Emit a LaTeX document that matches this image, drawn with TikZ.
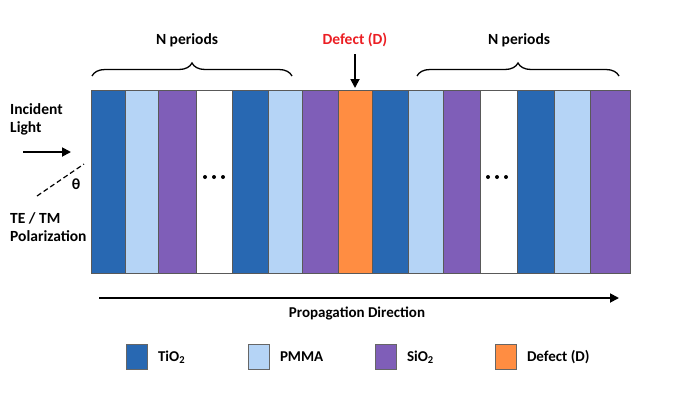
\documentclass[tikz,border=0pt]{standalone}
\usepackage{fontspec}
\setmainfont{Carlito}
\usetikzlibrary{arrows.meta}
\usetikzlibrary{decorations.pathreplacing}
\definecolor{tio}{RGB}{40,104,178}
\definecolor{pmma}{RGB}{181,212,246}
\definecolor{sio}{RGB}{127,94,184}
\definecolor{dfct}{RGB}{255,141,66}
\definecolor{dred}{RGB}{235,30,35}
\tikzset{layer/.style={draw=black!65,line width=0.5}}

\begin{document}
\begin{tikzpicture}[x=1pt,y=-1pt]
  \tikzset{lbl/.style={font=\bfseries\fontsize{15}{18}\selectfont,inner sep=1pt}}
  \tikzset{biglbl/.style={font=\bfseries\fontsize{15.5}{18}\selectfont,inner sep=1pt}}
  \tikzset{bracket/.style={decorate,decoration={brace,amplitude=13},line width=1.3}}
  \tikzset{bigarrow/.style={-{Triangle[length=9,width=9]},line width=1.8}}
  \tikzset{keybox/.style={draw=black!60,line width=0.6,minimum width=21,minimum height=25,inner sep=0}}
  \tikzset{dot/.style={circle,fill=black,inner sep=0,minimum size=4}}
  \useasboundingbox (0,0) rectangle (685,405);

  % the stack
  \foreach \xa/\xb/\col [count=\i] in {91/125/tio,125/158/pmma,158/196/sio,196/232/white,
      232/268/tio,268/302/pmma,302/338/sio,338/372/dfct,372/408/tio,408/443/pmma,
      443/480/sio,480/517/white,517/554/tio,554/590/pmma,590/630/sio}{
    \draw[layer,fill=\col] (\xa,90) rectangle (\xb,273);
    \path ({(\xa+\xb)/2},90) coordinate (L\i);
  }
  \foreach \x in {205,214,223,488,497,506}
    \node[dot] at (\x,177) {};

  % periods and defect
  \draw[bracket] (92,76) -- (292,76);
  \draw[bracket] (417,76) -- (619,76);
  \node[biglbl] (np1) at (187,40) {N periods};
  \node[biglbl] (np2) at (519,40) {N periods};
  \node[biglbl,text=dred] (dlbl) at (355,40) {Defect (D)};
  \draw[bigarrow,shorten <=6,shorten >=2] (dlbl) -- (L8);

  % incident side
  \node[biglbl,align=left,anchor=west] (inc) at (9,119) {Incident\\Light};
  \coordinate (a0) at (23,152);
  \coordinate (a1) at (71,152);
  \draw[bigarrow] (a0) -- (a1);
  \coordinate (d0) at (37,196);
  \coordinate (d1) at (84,164);
  \draw[line width=1.2,dash pattern=on 5pt off 3pt] (d0) -- (d1);
  \node[biglbl] (th) at (76,184) {θ};
  \node[biglbl,align=left,anchor=west] (pol) at (9,227) {TE / TM\\Polarization};

  % propagation
  \coordinate (p0) at (99,298);
  \coordinate (p1) at (619,298);
  \draw[bigarrow] (p0) -- (p1);
  \node[lbl] (prop) at (357,313) {Propagation Direction};

  % legend
  \foreach \col/\txt/\x [count=\i] in {tio/TiO\textsubscript{2}/137,pmma/PMMA/259,
      sio/SiO\textsubscript{2}/386,dfct/Defect (D)/506}{
    \node[keybox,fill=\col] (k\i) at (\x,357) {};
    \node[lbl,anchor=west] (t\i) at ([xshift=9]k\i.east) {\txt};
  }
\end{tikzpicture}
\end{document}
